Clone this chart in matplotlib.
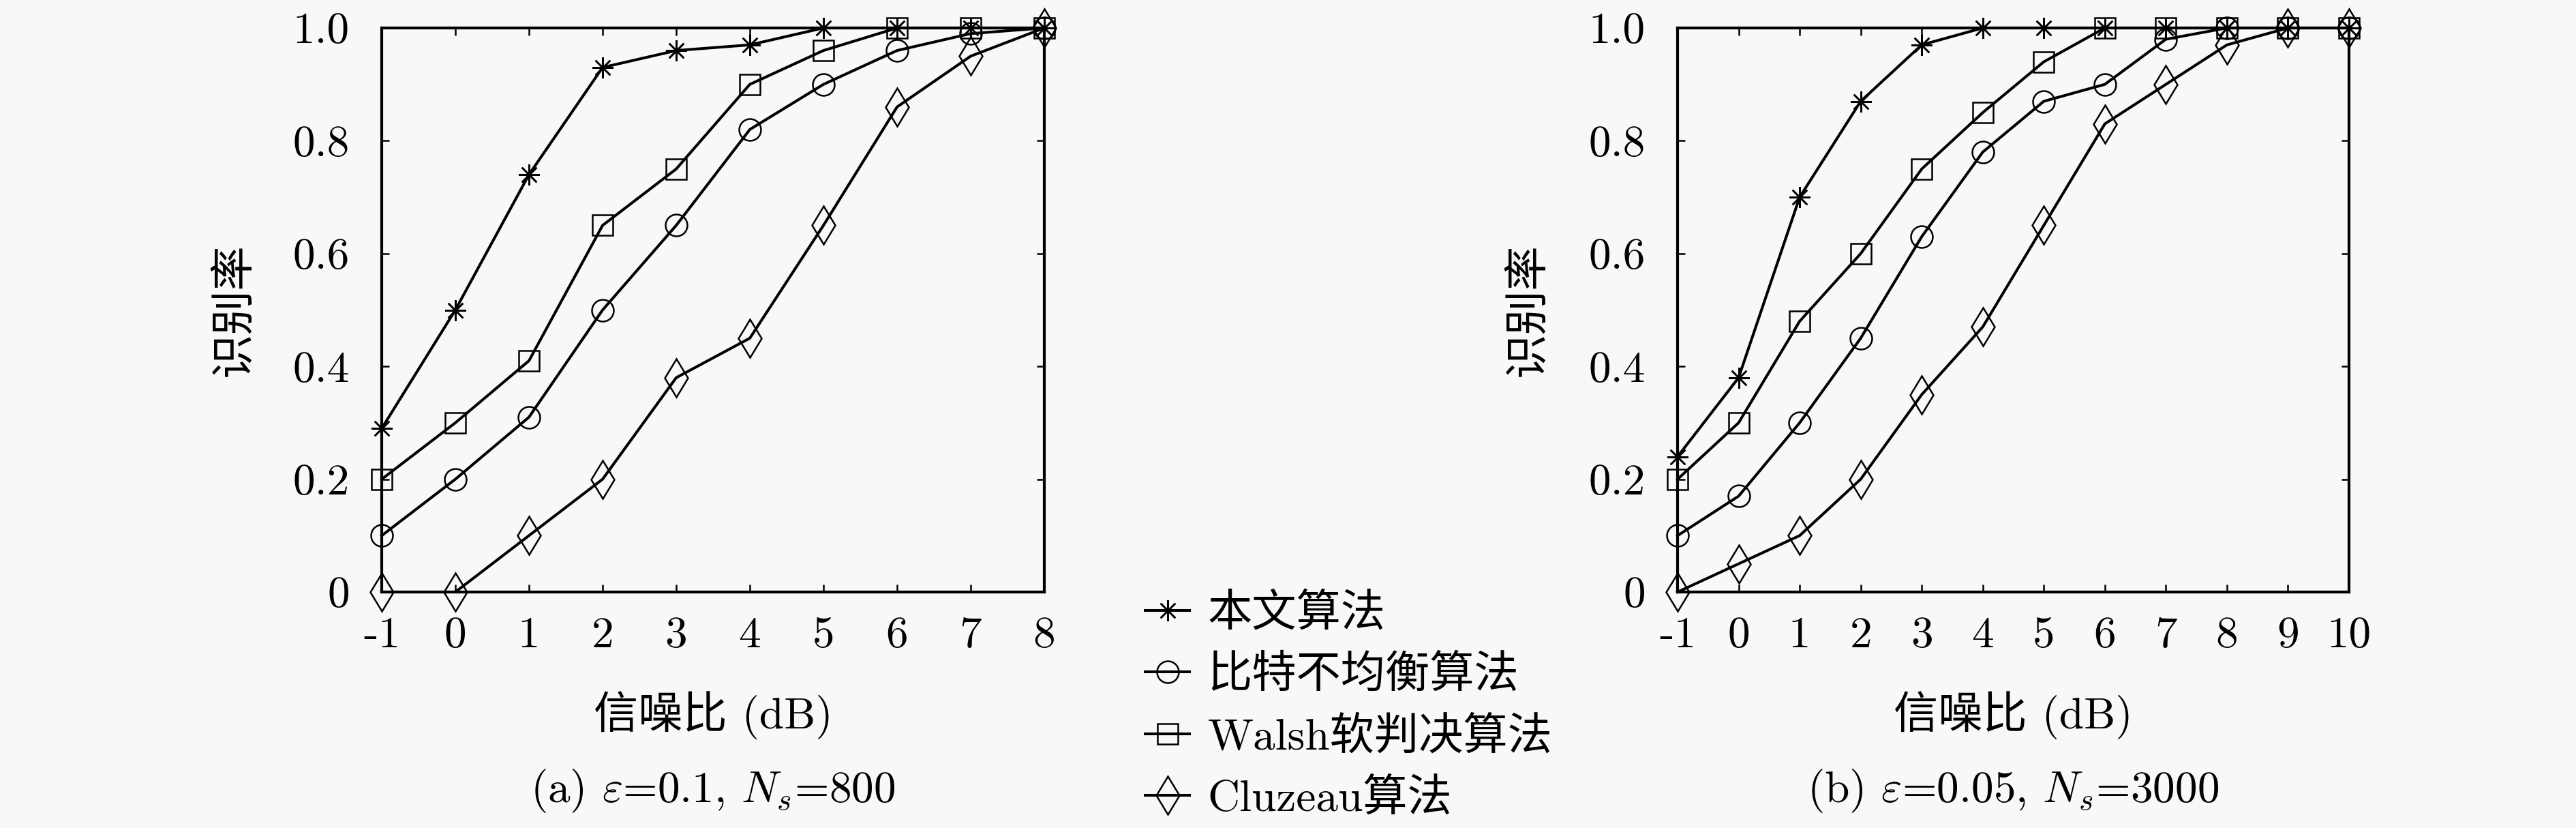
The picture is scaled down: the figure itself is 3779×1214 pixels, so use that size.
import matplotlib
matplotlib.use('Agg')
import matplotlib.pyplot as plt

plt.rcParams['font.family'] = ['cmr10', 'Noto Sans CJK SC', 'DejaVu Sans']
plt.rcParams['mathtext.fontset'] = 'cm'
plt.rcParams['axes.unicode_minus'] = False
plt.rcParams['axes.formatter.use_mathtext'] = True

# ---- data ----
labels = ['本文算法', '比特不均衡算法', 'Walsh软判决算法', 'Cluzeau算法']

snr_a = [-1, 0, 1, 2, 3, 4, 5, 6, 7, 8]
ours_a = [0.29, 0.50, 0.74, 0.93, 0.96, 0.97, 1.0, 1.0, 1.0, 1.0]
bit_a = [0.10, 0.20, 0.31, 0.50, 0.65, 0.82, 0.90, 0.96, 0.99, 1.0]
walsh_a = [0.20, 0.30, 0.41, 0.65, 0.75, 0.90, 0.96, 1.0, 1.0, 1.0]
cluzeau_a = [0.0, 0.0, 0.10, 0.20, 0.38, 0.45, 0.65, 0.86, 0.95, 1.0]

snr_b = [-1, 0, 1, 2, 3, 4, 5, 6, 7, 8, 9, 10]
ours_b = [0.24, 0.38, 0.70, 0.87, 0.97, 1.0, 1.0, 1.0, 1.0, 1.0, 1.0, 1.0]
bit_b = [0.10, 0.17, 0.30, 0.45, 0.63, 0.78, 0.87, 0.90, 0.98, 1.0, 1.0, 1.0]
walsh_b = [0.20, 0.30, 0.48, 0.60, 0.75, 0.85, 0.94, 1.0, 1.0, 1.0, 1.0, 1.0]
cluzeau_b = [0.0, 0.05, 0.10, 0.20, 0.35, 0.47, 0.65, 0.83, 0.90, 0.97, 1.0, 1.0]

yticks = [0, 0.2, 0.4, 0.6, 0.8, 1.0]
ytick_labels = ['0', '0.2', '0.4', '0.6', '0.8', '1.0']
captions = [r'(a) $\varepsilon$=0.1, $N_s$=800', r'(b) $\varepsilon$=0.05, $N_s$=3000']

W, H = 3780, 1214
fig = plt.figure(figsize=(W / 100, H / 100), dpi=100, facecolor='#f8f8f8')

markers = [(8, 2, 0), 'o', 's', 'd']
msizes = [22, 23, 22, 29]
FS = 47


def panel(rect, x, series, xlim, caption):
    ax = fig.add_axes(rect)
    ax.set_facecolor('#f8f8f8')
    handles = []
    for y, m, ms in zip(series, markers, msizes):
        h, = ax.plot(x, y, color='black', lw=2.9, marker=m, ms=ms,
                     mfc='none', mec='black', mew=1.8, clip_on=False, zorder=3)
        handles.append(h)
    ax.set_xlim(xlim)
    ax.set_ylim(0, 1)
    ax.set_xticks(x)
    ax.set_xticklabels([str(v) for v in x])
    ax.set_yticks(yticks)
    ax.set_yticklabels(ytick_labels)
    ax.tick_params(direction='in', top=True, right=True, length=8, width=1.8,
                   labelsize=FS)
    ax.tick_params(axis='x', pad=26)
    ax.tick_params(axis='y', pad=34)
    for s in ax.spines.values():
        s.set_linewidth(3.0)
    ax.set_xlabel('信噪比 (dB)', fontsize=FS)
    ax.xaxis.label.set_va('center')
    ax.xaxis.set_label_coords(0.5, -(1049 - 868) / 827)
    ax.set_ylabel('识别率', fontsize=FS)
    ax.yaxis.label.set_va('center')
    ax.yaxis.set_label_coords(-0.222, 0.5)
    cx = rect[0] + rect[2] / 2
    fig.text(cx, 1 - 1160 / H, caption, fontsize=FS, ha='center', va='center')
    return handles


bot = 1 - 868 / H
hgt = 827 / H
handles = panel([560 / W, bot, 972 / W, hgt], snr_a,
                [ours_a, bit_a, walsh_a, cluzeau_a], (-1, 8), captions[0])
panel([2461 / W, bot, 985 / W, hgt], snr_b,
      [ours_b, bit_b, walsh_b, cluzeau_b], (-1, 10), captions[1])

fig.legend(handles, labels, loc='center left',
           bbox_to_anchor=(1680 / W, 1 - 1036 / H), frameon=False,
           fontsize=FS, numpoints=1, handlelength=1.0, handletextpad=0.4,
           labelspacing=0.46, borderpad=0, borderaxespad=0)

fig.savefig('out.png', dpi=100, facecolor=fig.get_facecolor())
